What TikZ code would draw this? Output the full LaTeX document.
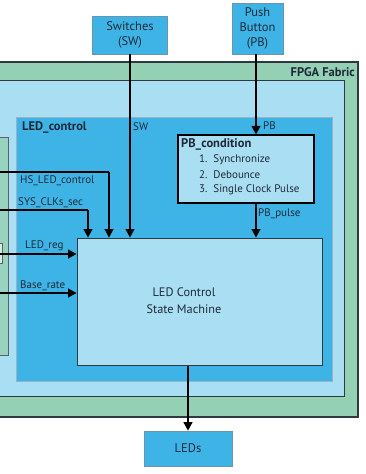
\documentclass[tikz,border=0pt]{standalone}
\usepackage{fontspec}
\setmainfont{PT Sans}
\usetikzlibrary{arrows.meta,positioning,calc}
\definecolor{fabricgreen}{HTML}{94D0B4}
\definecolor{lightblue}{HTML}{AADEF2}
\definecolor{midblue}{HTML}{3EB4E6}
\definecolor{txt}{HTML}{1E2A3A}
\definecolor{edgegray}{HTML}{2E3A40}
\definecolor{blueedge}{HTML}{6E93AE}
\begin{document}
\begin{tikzpicture}[x=1pt,y=-1pt,
  every node/.style={font=\fontsize{11}{13}\selectfont, text=txt},
  panel/.style={rectangle, inner sep=0pt, anchor=center},
  iobox/.style={panel, fill=midblue, draw=blueedge, line width=0.8pt, align=center, font=\fontsize{12.5}{15}\selectfont},
  lbl/.style={anchor=west, inner sep=0pt},
  bold/.style={lbl, font=\bfseries\fontsize{12.5}{14}\selectfont},
  arr/.style={line width=1.3pt, draw=black, -{Triangle[length=8.5pt,width=9pt]}},
  wire/.style={line width=1.3pt, draw=black}
]
\useasboundingbox (0,0) rectangle (366,474);
\clip (0,0) rectangle (366,474);
\fill[white] (0,0) rectangle (366,474);
% FPGA fabric
\node[panel, fill=fabricgreen, draw=edgegray, line width=1.2pt, minimum width=378pt, minimum height=355pt] (fabric) at (169,239.5) {};
\node[panel, fill=lightblue, draw=edgegray, line width=1pt, minimum width=364pt, minimum height=316pt] (lb) at (162,238) {};
% green module at left
\node[panel, fill=fabricgreen!80!lightblue, draw=edgegray!80, line width=0.9pt, minimum width=28pt, minimum height=218pt] (gp) at (-6,246) {};
\node[panel, fill=yellow!15!fabricgreen!40!white, draw=edgegray!80, line width=0.7pt, minimum width=12pt, minimum height=20pt] (gsmall) at (-4,253) {};
% LED_control
\node[panel, fill=midblue, draw=blueedge!70!white, line width=0.8pt, minimum width=316pt, minimum height=264pt] (ledctrl) at (174,249) {};
% State machine
\node[panel, fill=lightblue, draw=edgegray, line width=1pt, minimum width=245pt, minimum height=127pt] (sm) at (199.5,301.5) {};
\node[align=center, font=\fontsize{12.3}{17}\selectfont] (smtext) at (184,300.5) {LED Control\\State Machine};
% PB_condition
\node[panel, fill=lightblue, draw=black, line width=1.2pt, minimum width=136pt, minimum height=68pt] (pbc) at (246,169) {};
\node[bold] (pbct) at (181,144) {PB\_condition};
\node[lbl] (l1) at (199,159.5) {1.\ \ Synchronize};
\node[lbl] (l2) at (199,175) {2.\ \ Debounce};
\node[lbl] (l3) at (199,190) {3.\ \ Single Clock Pulse};
% IO boxes
\node[iobox, minimum width=75pt, minimum height=38pt] (sw) at (130,35) {Switches\\(SW)};
\node[iobox, minimum width=51pt, minimum height=51pt] (pb) at (257.5,28.5) {Push\\Button\\(PB)};
\node[iobox, minimum width=88pt, minimum height=35pt] (leds) at (188,448.5) {LEDs};
% titles
\node[anchor=east, inner sep=0pt, font=\bfseries\fontsize{12.5}{14}\selectfont] (fabt) at (355,72) {FPGA Fabric};
\node[bold] (lct) at (22,127) {LED\_control};
% wires
\coordinate (pbx) at (256,0);
\draw[arr] (sw.south) -- (sw.south |- sm.north);
\draw[arr] (pbx |- pb.south) -- (pbx |- pbc.north);
\draw[arr] (pbx |- pbc.south) -- (pbx |- sm.north);
\draw[arr] (leds.north |- sm.south) -- (leds.north);
\node[lbl] (swl) at (133,127) {SW};
\node[lbl] (pbl) at (263,126) {PB};
\node[lbl] (pbp) at (258,214) {PB\_pulse};
% left inputs
\coordinate (hsin) at (0,172);
\coordinate (hsx) at (109,172);
\coordinate (sysin) at (0,210);
\coordinate (sysx) at (88,210);
\coordinate (regin) at (0,254);
\coordinate (basein) at (0,293);
\draw[wire] (hsin) -- (hsx);
\draw[arr] (hsx) -- (hsx |- sm.north);
\draw[wire] (sysin) -- (sysx);
\draw[arr] (sysx) -- (sysx |- sm.north);
\draw[arr] (regin) -- (regin -| sm.west);
\draw[arr] (basein) -- (basein -| sm.west);
\node[lbl] (hsl) at (20,181) {HS\_LED\_control};
\node[lbl] (sysl) at (18,203) {SYS\_CLKs\_sec};
\node[lbl] (regl) at (25,246) {LED\_reg};
\node[lbl] (basel) at (20,286) {Base\_rate};
\end{tikzpicture}
\end{document}
